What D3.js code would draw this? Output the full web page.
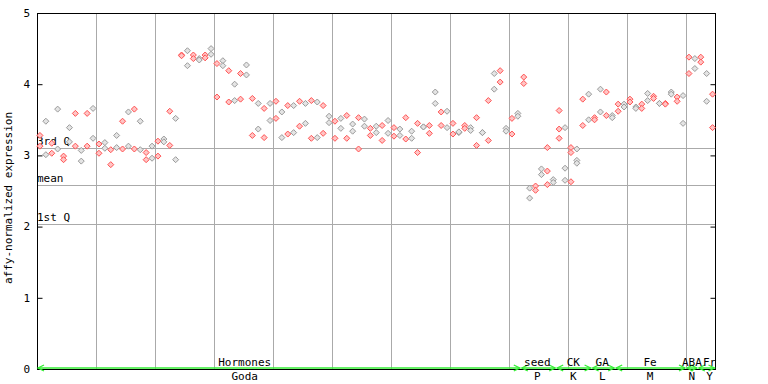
<!DOCTYPE html>
<html>
<head>
<meta charset="utf-8">
<script src="https://cdn.jsdelivr.net/npm/d3@7"></script>
<style>
  body { margin: 0; background: #fff; }
  text { font-family: "DejaVu Sans Mono", monospace; font-size: 11px; fill: #000; }
</style>
</head>
<body>
<div id="chart"></div>
<script>
// expression values per sample (replicates)
var values = [
  [3.28,3.13],[3.48,3.01],[3.17,3.03],[3.65,3.09],[2.99,2.94],[3.39,3.19],[3.59,3.13],[3.07,2.92],[3.59,3.13],[3.66,3.24],
  [3.16,3.03],[3.18,3.10],[3.08,2.87],[3.28,3.11],[3.48,3.09],[3.61,3.13],[3.65,3.09],[3.48,3.08],[3.04,2.94],[3.13,2.96],
  [3.20,2.99],[3.23,3.19],[3.62,3.14],[3.52,2.94],[4.41,4.40],[4.47,4.26],[4.41,4.36],[4.36,4.34],[4.41,4.37],[4.50,4.42],
  [4.29,3.82],[4.33,4.26],[4.19,3.75],[4.00,3.77],[4.15,3.79],[4.27,4.13],[3.80,3.28],[3.73,3.37],[3.66,3.25],[3.73,3.49],
  [3.76,3.52],[3.61,3.25],[3.70,3.30],[3.70,3.32],[3.76,3.41],[3.73,3.45],[3.77,3.24],[3.75,3.25],[3.70,3.31],[3.55,3.46],
  [3.48,3.24],[3.52,3.38],[3.56,3.24],[3.44,3.34],[3.53,3.09],[3.51,3.41],[3.38,3.28],[3.41,3.32],[3.42,3.21],[3.49,3.31],
  [3.39,3.27],[3.37,3.28],[3.53,3.23],[3.34,3.24],[3.45,3.04],[3.40,3.40],[3.42,3.31],[3.89,3.73],[3.61,3.42],[3.62,3.39],
  [3.45,3.30],[3.32,3.33],[3.42,3.38],[3.39,3.35],[3.53,3.14],[3.32,3.32],[3.77,3.21],[4.15,3.93],[4.19,4.03],[3.38,3.34],
  [3.52,3.30],[3.59,3.55],[4.10,4.01],[2.54,2.40],[2.57,2.51],[2.81,2.73],[3.11,2.78,2.59],[2.66,2.62],[3.63,3.37,3.24],[3.39,2.82,2.65],
  [3.11,3.04,2.63],[3.09,2.93,2.89],[3.79,3.42],[3.86,3.50],[3.53,3.50],[3.93,3.61],[3.89,3.56],[3.56,3.53],[3.72,3.62],[3.72,3.68],
  [3.79,3.75],[3.68,3.66],[3.72,3.66],[3.87,3.77],[3.83,3.80],[3.73,3.73],[3.73,3.72],[3.89,3.86],[3.82,3.76],[3.84,3.45],
  [4.38,4.15],[4.36,4.22],[4.38,4.31],[4.15,3.76],[3.86,3.39]
];

// experiment categories along the bottom
var groups     = ["Hormones","seed","CK","GA","Fe","ABA","Fr"];
var subLabels  = ["Goda","P","K","L","M","N","Y"];
var groupStart = [0, 82, 88, 94, 98, 110, 112];
var groupEnd   = [81, 87, 93, 97, 109, 111, 114];
var labelPos   = [35.2, 84.8, 90.9, 95.8, 103.9, 111.0, 114.0];

var yTicks = [0, 1, 2, 3, 4, 5];
var quartNames = ["3rd Q", "mean", "1st Q"];
var quartValues = [3.10, 2.58, 2.03];

var W = 768, H = 384;
var pLeft = 37, pRight = 715.5, pTop = 13, pBottom = 369;

var svg = d3.select("#chart").append("svg")
  .attr("width", W)
  .attr("height", H);

var x = d3.scaleBand()
  .domain(d3.range(values.length))
  .range([pLeft, pRight])
  .padding(0);

var y = d3.scaleLinear()
  .domain([0, 5])
  .range([pBottom, pTop]);

var step = x.step();

// vertical grid every 10 samples
var gridIdx = d3.range(10, values.length, 10);
svg.append("g").selectAll("line")
  .data(gridIdx)
  .enter().append("line")
    .attr("x1", function(d) { return Math.round(x(d)) + 0.5; })
    .attr("x2", function(d) { return Math.round(x(d)) + 0.5; })
    .attr("y1", pTop)
    .attr("y2", pBottom)
    .style("stroke", "#aaaaaa");

// quartile lines
svg.append("g").selectAll("line")
  .data(quartValues)
  .enter().append("line")
    .attr("x1", pLeft)
    .attr("x2", pRight)
    .attr("y1", function(d) { return Math.round(y(d)) + 0.5; })
    .attr("y2", function(d) { return Math.round(y(d)) + 0.5; })
    .style("stroke", "#aaaaaa");

svg.append("g").selectAll("text")
  .data(quartValues)
  .enter().append("text")
    .attr("x", pLeft)
    .attr("y", function(d) { return Math.round(y(d)) - 3; })
    .text(function(d, i) { return quartNames[i]; });

// frame
svg.append("rect")
  .attr("x", pLeft + 0.5)
  .attr("y", pTop + 0.5)
  .attr("width", pRight - pLeft - 0.5)
  .attr("height", pBottom - pTop)
  .style("fill", "none")
  .style("stroke", "#000");

// y axis left, ticks inward
svg.append("g")
  .attr("transform", "translate(" + (pLeft + 0.5) + ",0)")
  .call(d3.axisRight(y).tickValues(yTicks).tickSize(5).tickFormat(""))
  .call(function(g) { g.select(".domain").remove(); });

svg.append("g").selectAll("text")
  .data(yTicks)
  .enter().append("text")
    .attr("x", 30)
    .attr("y", function(d) { return y(d); })
    .attr("dy", "0.35em")
    .attr("text-anchor", "end")
    .text(function(d) { return d; });

// y axis right, ticks inward
svg.append("g")
  .attr("transform", "translate(" + pRight + ",0)")
  .call(d3.axisLeft(y).tickValues(yTicks).tickSize(5).tickFormat(""))
  .call(function(g) { g.select(".domain").remove(); });

svg.append("text")
  .attr("transform", "translate(12," + ((pTop + pBottom) / 2 + 7) + ") rotate(-90)")
  .attr("text-anchor", "middle")
  .text("affy-normalized expression");

// points
var pts = [];
values.forEach(function(reps, i) {
  reps.forEach(function(v) { pts.push({i: i, v: v}); });
});

var diamond = "M0,-3L3,0L0,3L-3,0Z";
svg.append("g").selectAll("path")
  .data(pts)
  .enter().append("path")
    .attr("d", diamond)
    .attr("transform", function(d) {
      return "translate(" + (x(d.i) + step / 2) + "," + y(d.v) + ")";
    })
    .style("fill", function(d) { return d.i % 2 ? "#e4e4e4" : "#ffc4c4"; })
    .style("stroke", function(d) { return d.i % 2 ? "#9a9a9a" : "#ff5252"; })
    .style("stroke-width", 1);

// category arrows
var green = "#33ee33";
var gy = pBottom - 1;
var arrows = svg.append("g");
groups.forEach(function(g, k) {
  var x0 = x(groupStart[k]) + 1;
  var x1 = x(groupEnd[k]) + step - 1;
  arrows.append("line")
    .attr("x1", x0).attr("x2", x1)
    .attr("y1", gy).attr("y2", gy)
    .style("stroke", green)
    .style("stroke-width", 1.5);
  arrows.append("path")
    .attr("d", "M" + (x0 + 6) + "," + (gy - 3) + "L" + x0 + "," + gy + "L" + (x0 + 6) + "," + (gy + 3))
    .style("fill", "none").style("stroke", green).style("stroke-width", 1.3);
  arrows.append("path")
    .attr("d", "M" + (x1 - 6) + "," + (gy - 3) + "L" + x1 + "," + gy + "L" + (x1 - 6) + "," + (gy + 3))
    .style("fill", "none").style("stroke", green).style("stroke-width", 1.3);

  var cx = pLeft + labelPos[k] * step;
  svg.append("text")
    .attr("x", cx).attr("y", 366)
    .attr("text-anchor", "middle")
    .text(g);
  svg.append("text")
    .attr("x", cx).attr("y", 380)
    .attr("text-anchor", "middle")
    .text(subLabels[k]);
});
</script>
</body>
</html>
